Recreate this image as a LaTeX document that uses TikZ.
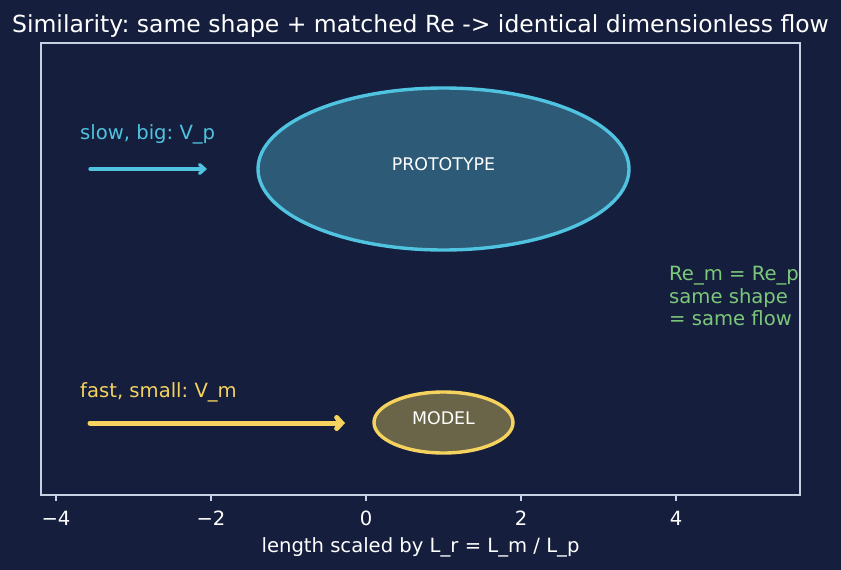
\documentclass[tikz,border=0pt]{standalone}
\usepackage{fontspec}
\setmainfont{DejaVu Sans}
\frenchspacing
\usetikzlibrary{arrows.meta,shapes.geometric}
\definecolor{bg}{HTML}{151F3D}
\definecolor{spine}{HTML}{C8D0E4}
\definecolor{cyanc}{HTML}{4FC3E0}
\definecolor{protofill}{HTML}{2C5A77}
\definecolor{yellowc}{HTML}{F5D35E}
\definecolor{modelfill}{HTML}{6A6548}
\definecolor{greenc}{HTML}{7CC87A}
\tikzset{
  lbl/.style={font=\fontsize{19.6}{22}\selectfont, inner sep=0pt},
  tick/.style={draw=spine, line width=1.3pt},
  ticklbl/.style={font=\fontsize{19.6}{22}\selectfont, text=white, inner sep=0pt},
  blob/.style={ellipse, line width=3.4pt, inner sep=0pt},
  inner/.style={font=\fontsize{17.4}{20}\selectfont, text=white, inner sep=0pt},
}
\begin{document}
\frenchspacing
\begin{tikzpicture}[x=1pt,y=-1pt]
\fill[bg] (0,0) rectangle (841,570);
\useasboundingbox (0,0) rectangle (841,570);
% title
\node[font=\fontsize{23.5}{27}\selectfont, text=white, inner sep=0pt, anchor=base] (title) at (420.5,32) {Similarity: same shape + matched Re -> identical dimensionless flow};
% axes frame
\draw[spine, line width=1.3pt] (41,43) rectangle (800,495);
% ticks
\foreach \v/\t [count=\i] in {56/−4, 211/−2, 366/0, 521/2, 676/4}{
  \coordinate (t\i) at (\v,495);
  \draw[tick] (t\i) -- ++(0,6);
  \node[ticklbl, anchor=base] (tl\i) at (\v,525) {\t};
}
\node[ticklbl, anchor=base] (xlabel) at (420.5,552) {length scaled by L\_r = L\_m / L\_p};
% ellipses
\node[blob, draw=cyanc, fill=protofill, minimum width=371pt, minimum height=162pt] (proto) at (443.5,169) {};
\node[inner] (protolbl) at (443.5,164) {PROTOTYPE};
\node[blob, draw=yellowc, fill=modelfill, minimum width=139pt, minimum height=61pt] (model) at (443.5,422.5) {};
\node[inner] (modellbl) at (443.5,418) {MODEL};
% arrows
\coordinate (ca) at (90,169);
\coordinate (cb) at (207,169);
\draw[cyanc, line width=3.3pt, line cap=round, -{Straight Barb[length=5pt,width=9pt,line cap=round]}] (ca) -- (cb);
\coordinate (ya) at (90,423);
\coordinate (yb) at (345,423);
\draw[yellowc, line width=5pt, line cap=round, -{Straight Barb[length=5pt,width=11pt,line cap=round]}] (ya) -- (yb);
% labels
\node[lbl, text=cyanc, anchor=base west] (slow) at (80,139) {slow, big: V\_p};
\node[lbl, text=yellowc, anchor=base west] (fast) at (80,397) {fast, small: V\_m};
\node[lbl, text=greenc, anchor=base west] (eq1) at (669,280) {Re\_m = Re\_p};
\node[lbl, text=greenc, anchor=base west] (eq2) at (669,303) {same shape};
\node[lbl, text=greenc, anchor=base west] (eq3) at (669,325.5) {= same flow};
\end{tikzpicture}
\end{document}
